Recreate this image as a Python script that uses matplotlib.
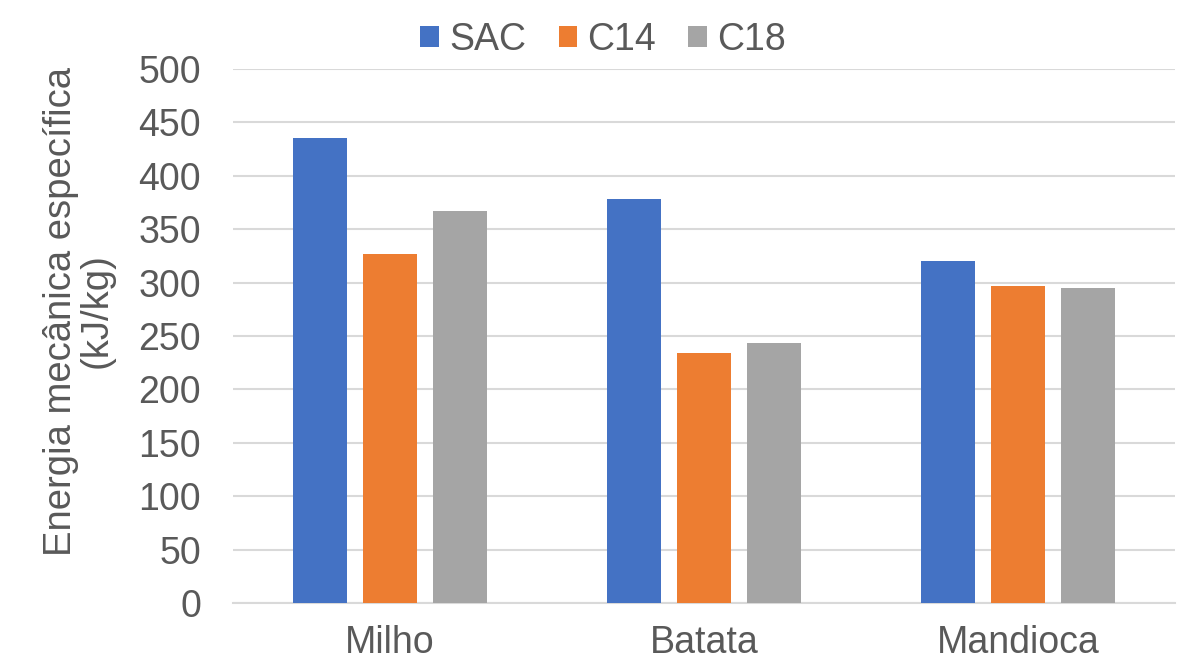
import numpy as np
import matplotlib.pyplot as plt

# ---------------------------------------
# Data
# ---------------------------------------

categories = ["Milho", "Batata", "Mandioca"]
series = ["SAC", "C14", "C18"]
sac = [435, 378, 320]
c14 = [327, 234, 297]
c18 = [367, 243, 295]
colors = ["#4472c4", "#ed7d31", "#a5a5a5"]
yticks = [0, 50, 100, 150, 200, 250, 300, 350, 400, 450, 500]

plt.rcParams["font.family"] = ["Liberation Sans", "DejaVu Sans"]
text_color = "#595959"
fs = 27

# ---------------------------------------
# Plot
# ---------------------------------------

fig = plt.figure(figsize=(11.77, 6.62), dpi=100)
ax = fig.add_axes([233 / 1177, 1 - 603 / 662, (1175 - 233) / 1177, (603 - 69) / 662])

x = np.arange(len(categories))
width = 0.175
step = 0.223

for i, (name, vals) in enumerate(zip(series, [sac, c14, c18])):
    ax.bar(x + (i - 1) * step, vals, width, color=colors[i], label=name, zorder=3)

ax.set_xlim(-0.5, 2.5)
ax.set_ylim(0, 500)
ax.set_yticks(yticks)
ax.set_xticks(x)
ax.set_xticklabels(categories)
ax.tick_params(axis="both", length=0, labelsize=fs, colors=text_color)
ax.tick_params(axis="x", pad=16)
ax.tick_params(axis="y", pad=23)

ax.grid(axis="y", color="#d9d9d9", linewidth=1.5, zorder=0)
for s in ["top", "right", "left"]:
    ax.spines[s].set_visible(False)
ax.spines["bottom"].set_color("#d9d9d9")
ax.spines["bottom"].set_linewidth(1.5)

fig.text(
    79 / 1177, 1 - 311 / 662,
    "Energia mecânica específica\n(kJ/kg)",
    rotation=90, ha="center", va="center", multialignment="center",
    fontsize=27.5, color=text_color, linespacing=1.0,
)

ax.legend(
    loc="center",
    bbox_to_anchor=(0.393, 1 + 29 / 534),
    ncol=3,
    frameon=False,
    fontsize=fs,
    handlelength=0.5,
    handleheight=0.5,
    handletextpad=0.27,
    columnspacing=0.86,
    labelcolor=text_color,
    borderpad=0,
)

plt.savefig("out.png", dpi=100)
